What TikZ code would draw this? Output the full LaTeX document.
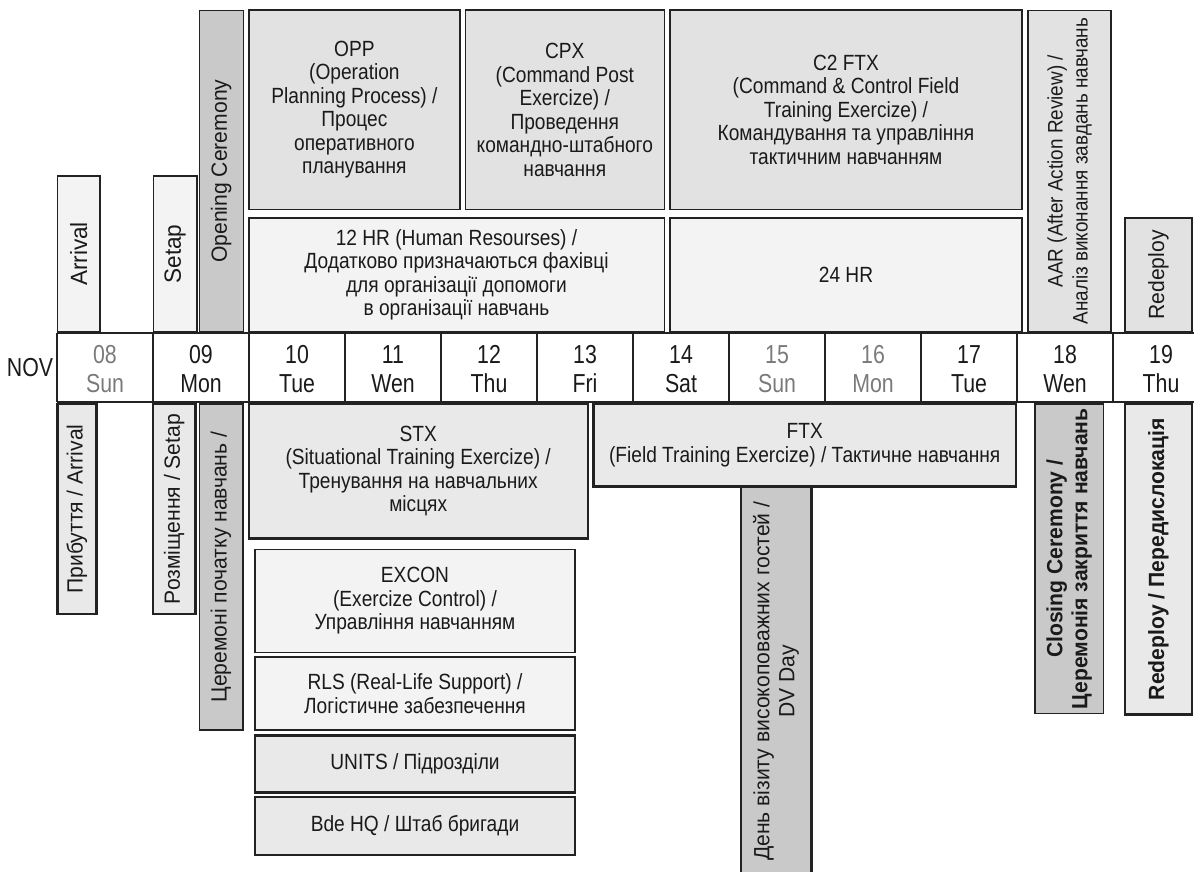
\documentclass[tikz,border=0pt]{standalone}
\usepackage{fontspec}
\setmainfont[FakeStretch=0.87]{Liberation Sans}
\newfontfamily\rotfam[FakeStretch=0.96]{Liberation Sans}
\newfontfamily\dayfam[FakeStretch=0.82]{Liberation Sans}
\newfontfamily\aarfam[FakeStretch=0.9]{Liberation Sans}
\newcommand\boxfont{\fontsize{22}{23.5}\selectfont}
\newcommand\rotfont{\rotfam\fontsize{22}{25}\selectfont}
\newcommand\aarfont{\aarfam\fontsize{21}{25}\selectfont}
\newcommand\dayfont{\dayfam\fontsize{26}{28}\selectfont}
\definecolor{fillA}{HTML}{F3F3F3}
\definecolor{fillB}{HTML}{E2E2E2}
\definecolor{fillC}{HTML}{C9C9C9}
\definecolor{fillD}{HTML}{E9E9E9}
\definecolor{edge}{HTML}{222222}
\definecolor{ink}{HTML}{1A1A1A}
\definecolor{dim}{HTML}{7A7A7A}
\tikzset{
  bx/.style={draw=edge, line width=1.6pt, inner sep=0pt, align=center, text=ink, font=\boxfont},
  bxk/.style={bx, line width=2.4pt},
  rot/.style={rotate=90, font=\rotfont},
  daylbl/.style={inner sep=0pt, align=center, font=\dayfont, text=ink},
  dimlbl/.style={daylbl, text=dim},
}
\begin{document}
\begin{tikzpicture}[x=1pt,y=-1pt]
\useasboundingbox (0,0) rectangle (1194,872);
\clip (0,0) rectangle (1194,872);
% ---------- top row ----------
\node[bx, rot, fill=fillA, minimum width=156, minimum height=42.7, font=\rotfont\fontsize{23.5}{25}\selectfont] (arrT) at (78.7,254) {Arrival};
\node[bx, rot, fill=fillA, minimum width=156, minimum height=43.4, font=\rotfont\fontsize{23.5}{25}\selectfont] (setT) at (175,254) {Setap};
\node[bx, rot, fill=fillC, minimum width=321.7, minimum height=44] (openT) at (221.3,171.2) {Opening Ceremony};
\node[bx, fill=fillB, minimum width=211.3, minimum height=199] (opp) at (354.4,109.8)
  {OPP\\(Operation\\Planning Process) /\\Процес\\оперативного\\планування};
\node[bx, fill=fillB, minimum width=199, minimum height=199] (cpx) at (564.8,109.8)
  {CPX\\(Command Post\\Exercize) /\\Проведення\\командно-штабного\\навчання};
\node[bx, fill=fillB, minimum width=352, minimum height=199] (c2ftx) at (846,109.8)
  {C2 FTX\\(Command \& Control Field\\Training Exercize) /\\Командування та управління\\тактичним навчанням};
\node[bx, fill=fillA, minimum width=415.6, minimum height=114.2] (hr12) at (456.5,274.9)
  {12 HR (Human Resourses) /\\Додатково призначаються фахівці\\для організації допомоги\\в організації навчань};
\node[bx, fill=fillA, minimum width=352, minimum height=114.2] (hr24) at (846,274.9) {24 HR};
\node[bx, rot, fill=fillB, minimum width=321.7, minimum height=83, font=\aarfont] (aar) at (1069.5,171.2)
  {AAR (After Action Review) /\\Аналіз виконання завдань навчань};
\node[bx, rot, fill=fillB, minimum width=114.2, minimum height=67] (redT) at (1158.5,274.9) {Redeploy};
% ---------- timeline ----------
\node[daylbl, anchor=base] (nov) at (30,376) {NOV};
\foreach \i in {0,...,11} {
  \coordinate (ct\i) at ({57+96*\i},333);
  \coordinate (cb\i) at ({57+96*\i},402);
}
\coordinate (ct12) at (1209,333);
\coordinate (cb12) at (1209,402);
\draw[line width=2.6pt, draw=edge] (ct0) -- (ct12);
\draw[line width=2.6pt, draw=edge] (cb0) -- (cb12);
\foreach \i in {0,...,12} {\draw[line width=2.2pt, draw=edge] (ct\i) -- (cb\i);}
\foreach \d/\w/\k/\s in {08/Sun/0/dimlbl,09/Mon/1/daylbl,10/Tue/2/daylbl,11/Wen/3/daylbl,12/Thu/4/daylbl,13/Fri/5/daylbl,14/Sat/6/daylbl,15/Sun/7/dimlbl,16/Mon/8/dimlbl,17/Tue/9/daylbl,18/Wen/10/daylbl,19/Thu/11/daylbl} {
  \node[\s, anchor=base] (dn\k) at ({105+96*\k},363) {\d};
  \node[\s, anchor=base] (dw\k) at ({105+96*\k},392) {\w};
}
% ---------- bottom row ----------
\node[bxk, rot, fill=fillD, minimum width=210, minimum height=39] (arrB) at (76.8,509) {Прибуття / Arrival};
\node[bxk, rot, fill=fillD, minimum width=210, minimum height=42.8] (setB) at (174.1,509) {Розміщення / Setap};
\node[bx, rot, fill=fillC, minimum width=326, minimum height=43.4] (openB) at (221,567) {Церемоні початку навчань /};
\node[bxk, fill=fillD, minimum width=339, minimum height=134.5] (stx) at (418.2,471.2)
  {STX\\(Situational Training Exercize) /\\Тренування на навчальних\\місцях};
\node[bx, fill=fillA, minimum width=320, minimum height=103] (excon) at (415,600.8)
  {EXCON\\(Exercize Control) /\\Управління навчанням};
\node[bx, fill=fillA, minimum width=320, minimum height=72.7] (rls) at (415,693.6)
  {RLS (Real-Life Support) /\\Логістичне забезпечення};
\node[bxk, fill=fillD, minimum width=320, minimum height=57] (units) at (415,763.8) {UNITS / Підрозділи};
\node[bxk, fill=fillD, minimum width=320, minimum height=58.2] (bde) at (415,825.9) {Bde HQ / Штаб бригади};
\node[bxk, rot, fill=fillC, minimum width=389.3, minimum height=70.7] (dv) at (776.1,681.3)
  {День візиту високоповажних гостей /\\DV Day};
\node[bxk, fill=fillD, minimum width=422.7, minimum height=82.7] (ftx) at (804.7,445.3)
  {FTX\\(Field Training Exercize) / Тактичне навчання};
\node[bx, rot, fill=fillC, minimum width=309.3, minimum height=68.3, font=\rotfont\bfseries] (close) at (1069.2,558.7)
  {Closing Ceremony /\\Церемонія закриття навчань};
\node[bxk, rot, fill=fillD, minimum width=310.3, minimum height=67, font=\rotfont\bfseries] (redB) at (1158.5,559.2)
  {Redeploy / Передислокація};
\end{tikzpicture}
\end{document}
